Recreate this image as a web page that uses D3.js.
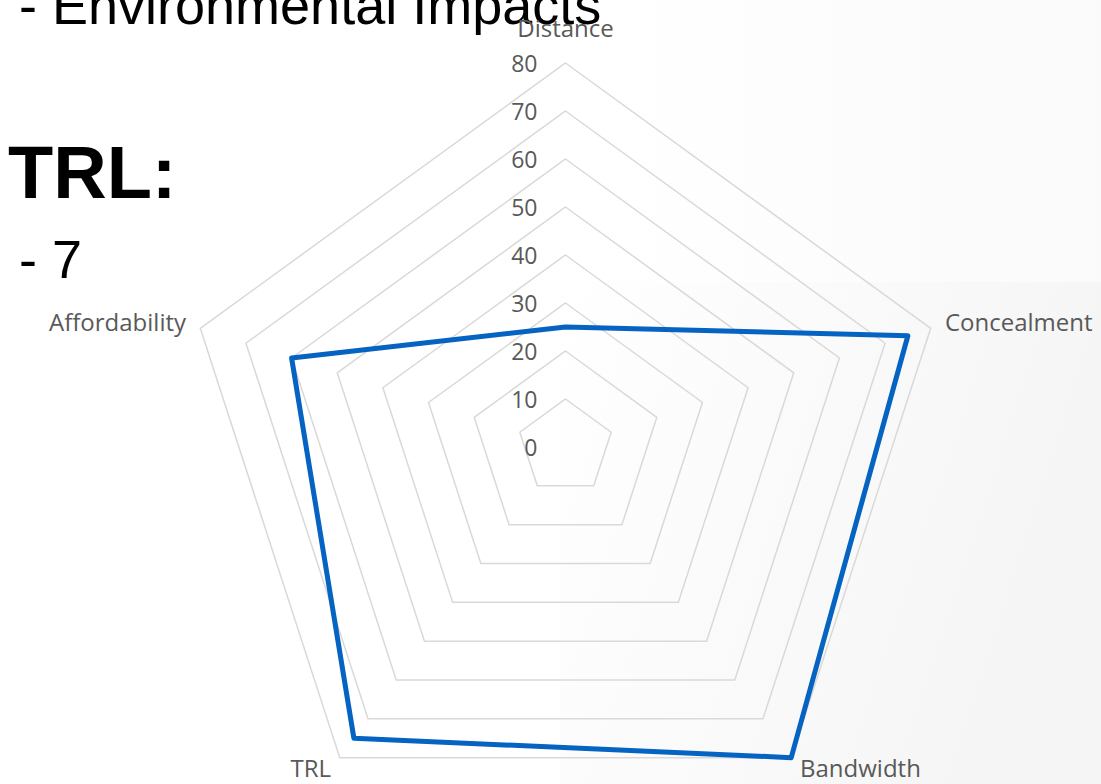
<!DOCTYPE html>
<html>
<head>
<meta charset="utf-8">
<script src="https://cdn.jsdelivr.net/npm/d3@7"></script>
<style>
  html, body { margin: 0; padding: 0; background: #ffffff; }
  svg { display: block; }
</style>
</head>
<body>
<svg id="chart" width="1101" height="784"></svg>
<script>
// ---- data ----
const categories = ["Distance", "Concealment", "Bandwidth", "TRL", "Affordability"];
const seriesValues = [25, 75, 80, 75, 60];
const tickValues = [0, 10, 20, 30, 40, 50, 60, 70, 80];
const tickLabels = ["0", "10", "20", "30", "40", "50", "60", "70", "80"];
const slideLines = ["- Environmental Impacts", "TRL:", "- 7"];

// ---- layout ----
const W = 1101, H = 784;
const cx = 565.5, cy = 447, R = 384;
const svg = d3.select("#chart");

// background shading
const defs = svg.append("defs");
const g1 = defs.append("linearGradient").attr("id", "bgTop").attr("x1", "0").attr("y1", "0").attr("x2", "1").attr("y2", "0");
g1.append("stop").attr("offset", "0").attr("stop-color", "#ffffff");
g1.append("stop").attr("offset", "1").attr("stop-color", "#fafafa");
const g2 = defs.append("linearGradient").attr("id", "bgBot").attr("x1", "0").attr("y1", "0").attr("x2", "1").attr("y2", "0.3");
g2.append("stop").attr("offset", "0").attr("stop-color", "#ffffff");
g2.append("stop").attr("offset", "1").attr("stop-color", "#f5f5f5");
svg.append("rect").attr("x", 600).attr("y", 0).attr("width", W - 600).attr("height", 282).attr("fill", "url(#bgTop)");
svg.append("rect").attr("x", 560).attr("y", 282).attr("width", W - 560).attr("height", H - 282).attr("fill", "url(#bgBot)");

// slide text
svg.append("text").attr("x", 19).attr("y", 24)
  .attr("font-family", "'Liberation Sans', Arial, sans-serif").attr("font-size", 54)
  .attr("fill", "#000").text(slideLines[0]);
svg.append("text").attr("x", 8).attr("y", 198)
  .attr("font-family", "'Liberation Sans', Arial, sans-serif").attr("font-size", 74).attr("font-weight", "bold")
  .attr("fill", "#000").text(slideLines[1]);
svg.append("text").attr("x", 19).attr("y", 278)
  .attr("font-family", "'Liberation Sans', Arial, sans-serif").attr("font-size", 54)
  .attr("fill", "#000").text(slideLines[2]);

// ---- scales ----
const angle = d3.scalePoint().domain(categories.concat(["__end"])).range([0, 2 * Math.PI]);
const r = d3.scaleLinear().domain([0, 80]).range([0, R]);

const pt = (cat, v) => {
  const a = angle(cat);
  return [cx + r(v) * Math.sin(a), cy - r(v) * Math.cos(a)];
};

// grid rings
const ringLine = d3.line();
const grid = svg.append("g");
tickValues.filter(t => t > 0).forEach(t => {
  const pts = categories.map(c => pt(c, t));
  grid.append("path").attr("d", ringLine(pts) + "Z")
    .attr("fill", "none").attr("stroke", "#d9d9d9").attr("stroke-width", 1.5);
});

// tick labels
const font = "'Open Sans', 'Noto Sans', sans-serif";
svg.append("g").selectAll("text").data(tickValues).join("text")
  .attr("x", cx - 28)
  .attr("y", (d) => cy - r(d))
  .attr("text-anchor", "end")
  .attr("dominant-baseline", "central")
  .attr("font-family", font).attr("font-size", 23)
  .attr("fill", "#595959")
  .text((d, i) => tickLabels[i]);

// category labels
svg.append("g").selectAll("text").data(categories).join("text")
  .each(function (c) {
    const a = angle(c);
    const s = Math.sin(a), co = Math.cos(a);
    const sel = d3.select(this);
    if (Math.abs(s) < 0.1) {
      sel.attr("x", cx).attr("y", cy - R - 36).attr("text-anchor", "middle");
    } else {
      const pad = 15;
      sel.attr("x", cx + (R + pad) * s).attr("y", cy - (R + pad) * co - 2)
        .attr("text-anchor", s > 0 ? "start" : "end");
    }
  })
  .attr("dominant-baseline", "central")
  .attr("font-family", font).attr("font-size", 24)
  .attr("fill", "#595959")
  .text(d => d);

// series
const seriesPts = categories.map((c, i) => pt(c, seriesValues[i]));
svg.append("path").attr("d", d3.line()(seriesPts) + "Z")
  .attr("fill", "none").attr("stroke", "#0563c1").attr("stroke-width", 5)
  .attr("stroke-linejoin", "round");
</script>
</body>
</html>
